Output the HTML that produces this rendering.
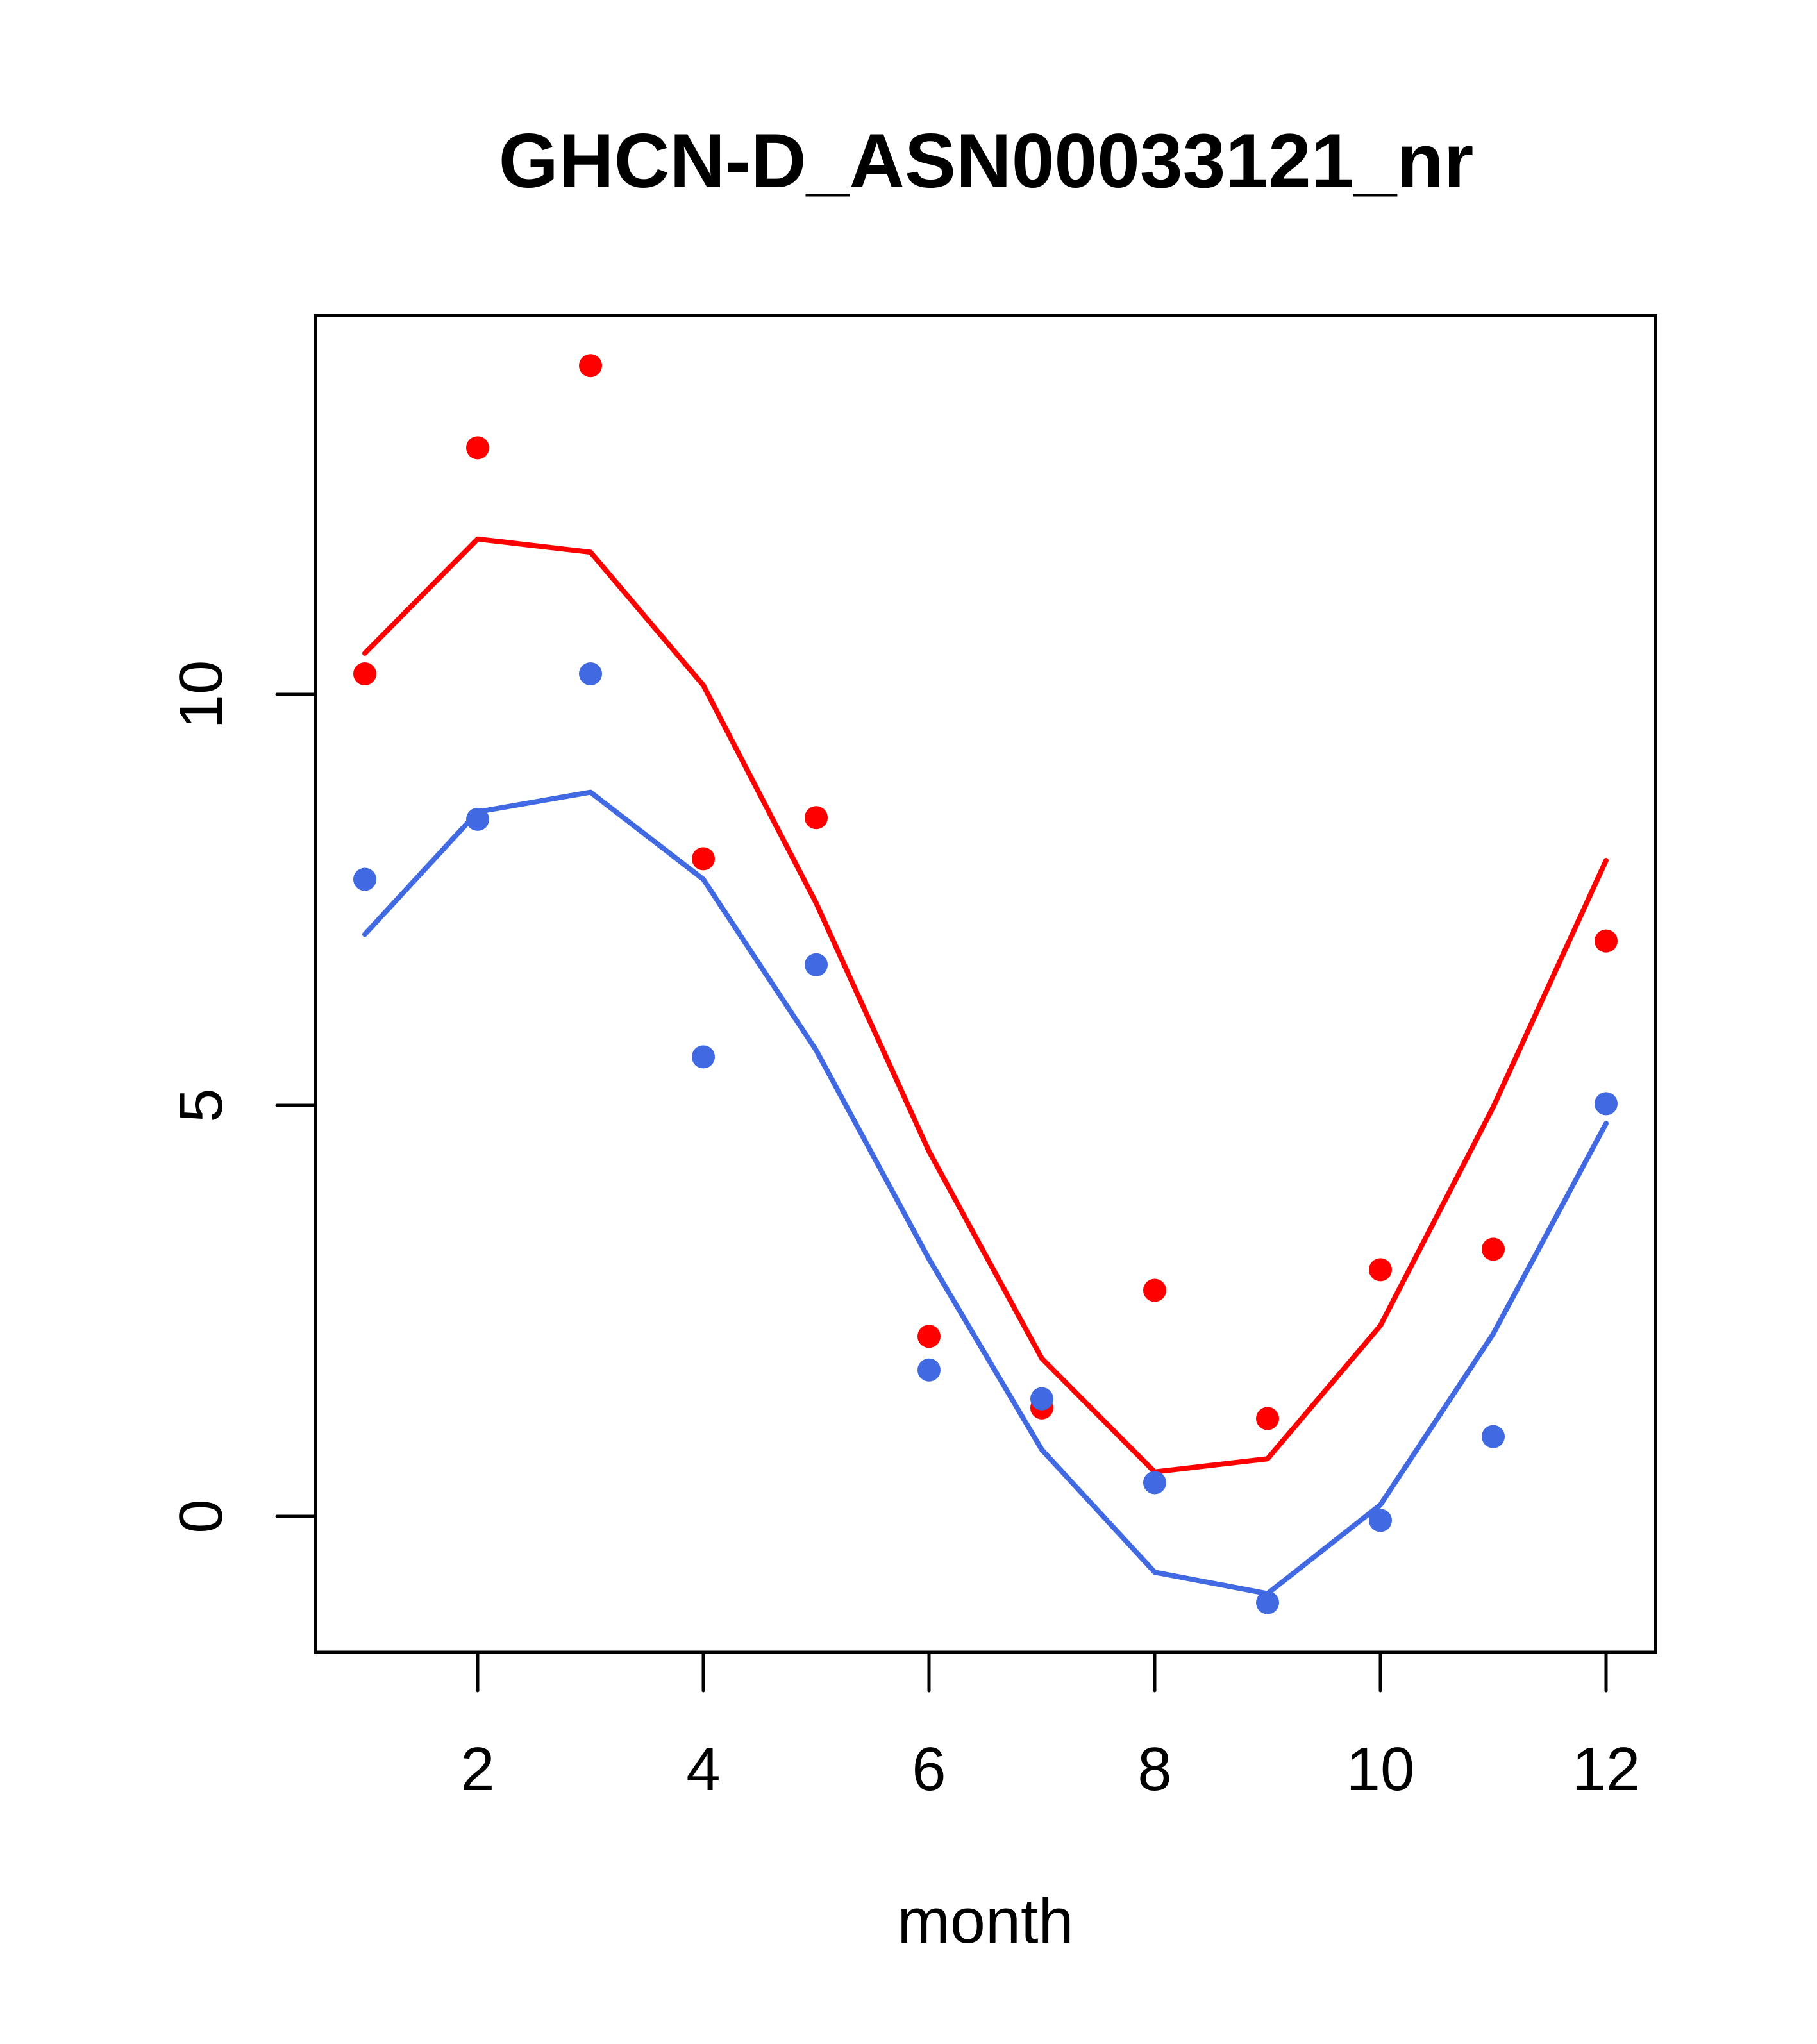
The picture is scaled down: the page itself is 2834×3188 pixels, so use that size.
<!DOCTYPE html>
<html><head><meta charset="utf-8"><style>html,body{margin:0;padding:0;background:#fff}svg{display:block}</style></head>
<body>
<svg id="chart" width="2834" height="3188" viewBox="0 0 2834 3188" xmlns="http://www.w3.org/2000/svg" font-family="Liberation Sans, Arial, sans-serif">
<rect width="2834" height="3188" fill="#fff"/>
<text x="1538" y="292" font-size="120" font-weight="bold" text-anchor="middle">GHCN-D_ASN00033121_nr</text>
<text x="1537" y="3030" font-size="99" text-anchor="middle">month</text>
<g id="axes"></g>
<g id="marks"></g>
<rect x="492" y="492" width="2090" height="2085" fill="none" stroke="#000" stroke-width="5"/>
</svg>
<script>
const months = [1,2,3,4,5,6,7,8,9,10,11,12];
const redPoints = [10.25,13.0,14.0,8.0,8.5,2.19,1.32,2.75,1.19,3.0,3.25,7.0];
const bluePoints = [7.75,8.48,10.25,5.59,6.71,1.78,1.43,0.41,-1.05,-0.05,0.97,5.02];
const redLine = [10.5,11.89,11.73,10.11,7.46,4.44,1.92,0.54,0.70,2.32,4.98,7.98];
const blueLine = [7.08,8.57,8.81,7.75,5.67,3.13,0.81,-0.68,-0.94,0.14,2.22,4.78];
const xTicks = [2,4,6,8,10,12];
const yTicks = [0,5,10];

const NS = "http://www.w3.org/2000/svg";
function X(v){ return 569 + (v-1)*176; }
function Y(v){ return 2365 - v*128.2; }
function mk(tag, attrs, parent){ const e=document.createElementNS(NS,tag); for(const k in attrs) e.setAttribute(k,attrs[k]); parent.appendChild(e); return e; }
const axes=document.getElementById('axes'), marks=document.getElementById('marks');

xTicks.forEach(t=>{
  const l=mk('line',{x1:X(t),x2:X(t),y1:2577,y2:2637,stroke:'#000','stroke-width':5,'stroke-linecap':'round'},axes);
  
  
  const tx=mk('text',{x:X(t),y:2792,'font-size':96,'text-anchor':'middle'},axes);
  tx.textContent=t;
  
  
});
yTicks.forEach(t=>{
  const l=mk('line',{x1:432,x2:492,y1:Y(t),y2:Y(t),stroke:'#000','stroke-width':5,'stroke-linecap':'round'},axes);
  
  
  const tx=mk('text',{x:0,y:0,'font-size':96,'text-anchor':'middle',transform:`translate(346,${Y(t)}) rotate(-90)`},axes);
  tx.textContent=t;
  
  
});

function line(vals,color,name){
  const p=mk('polyline',{points:vals.map((v,i)=>X(months[i])+','+Y(v)).join(' '),fill:'none',stroke:color,'stroke-width':8,'stroke-linejoin':'round','stroke-linecap':'round'},marks);
  
  
}
function pts(vals,color,name){
  vals.forEach((v,i)=>{
    const c=mk('circle',{cx:X(months[i]),cy:Y(v),r:18,fill:color},marks);
    
    
  });
}
line(redLine,'#ff0000','red-fit-line');
line(blueLine,'#4169e1','blue-fit-line');
pts(redPoints,'#ff0000','red-point');
pts(bluePoints,'#4169e1','blue-point');
</script>
</body></html>
